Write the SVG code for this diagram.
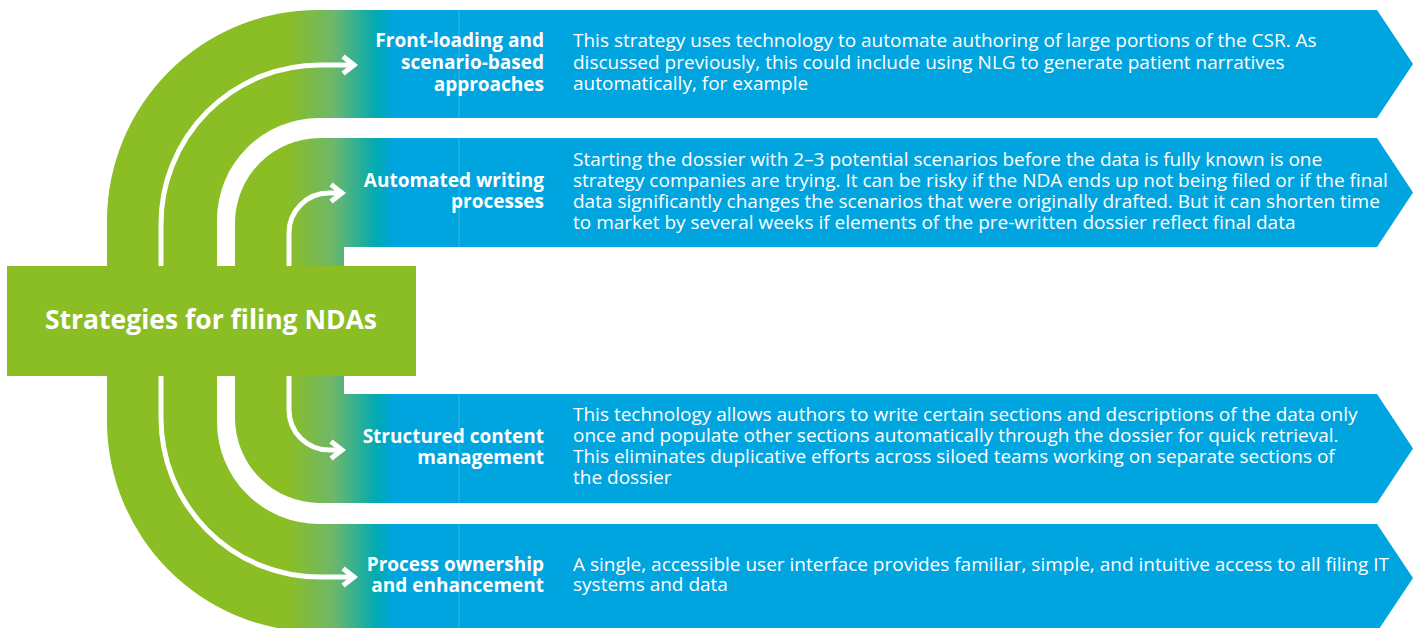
<svg xmlns="http://www.w3.org/2000/svg" width="1419" height="628" viewBox="0 0 1419 628">
<defs>
<linearGradient id="bandGrad" gradientUnits="userSpaceOnUse" x1="0" y1="0" x2="1419" y2="0">
<stop offset="0" stop-color="#8BBE24"/>
<stop offset="0.2025" stop-color="#8BBE24"/>
<stop offset="0.235" stop-color="#6DB76A"/>
<stop offset="0.2655" stop-color="#00AAB2"/>
<stop offset="0.277" stop-color="#00A4DF"/>
<stop offset="1" stop-color="#00A4DF"/>
</linearGradient>
</defs>
<style>
.band{fill:url(#bandGrad);}
.seam{stroke:#fff;stroke-opacity:0.22;stroke-width:1;}
.arrow{fill:none;stroke:#fff;stroke-width:5;}
.head{fill:none;stroke:#fff;stroke-width:5;stroke-linejoin:miter;}
.lbl{font-family:"Open Sans","Liberation Sans",sans-serif;font-weight:700;font-size:19px;fill:#fff;text-anchor:end;}
.desc{font-family:"Open Sans","Liberation Sans",sans-serif;font-size:19px;fill:#fff;}
.title{font-family:"Open Sans","Liberation Sans",sans-serif;font-weight:700;font-size:26.5px;fill:#fff;text-anchor:middle;}
</style>

<g id="outer-band">
<path class="band" d="M1413,64 L1377,10 L318,10 A211,211 0 0 0 107,221 L107,421 A211,211 0 0 0 318,632 L1377,632 L1413,578 L1377,524 L319,524 A102,102 0 0 1 217,422 L217,220 A102,102 0 0 1 319,118 L1377,118 Z"/>
</g>
<g id="inner-band">
<path class="band" d="M1413,192.5 L1377,138 L320,138 A85,85 0 0 0 235,223 L235,418 A85,85 0 0 0 320,503 L1377,503 L1413,448.5 L1377,394 L344,394 L344,247 L1377,247 Z"/>
</g>
<g id="seams">
<line class="seam" x1="459" y1="10" x2="459" y2="118"/>
<line class="seam" x1="459" y1="138" x2="459" y2="247"/>
<line class="seam" x1="459" y1="394" x2="459" y2="503"/>
<line class="seam" x1="459" y1="524" x2="459" y2="628"/>
</g>

<g id="connectors">
<path class="arrow" d="M161,270 L161,224 A159,159 0 0 1 320,65 L352,65"/>
<path class="head" d="M343,56.5 L354,65 L343,73.5"/>
<path class="arrow" d="M289,270 L289,233 A40,40 0 0 1 329,193 L340,193"/>
<path class="head" d="M331,184.5 L342,193 L331,201.5"/>
<path class="arrow" d="M289,372 L289,410 A40,40 0 0 0 329,450 L340,450"/>
<path class="head" d="M331,441.5 L342,450 L331,458.5"/>
<path class="arrow" d="M161,372 L161,418 A159,159 0 0 0 320,577 L352,577"/>
<path class="head" d="M343,568.5 L354,577 L343,585.5"/>
</g>

<g id="center-node">
<rect x="7" y="266" width="409" height="110" fill="#8BBE24"/>
<text class="title" x="211" y="329">Strategies for filing NDAs</text>
</g>

<g id="node-front-loading">
<text class="lbl"><tspan x="544" y="47">Front-loading and</tspan><tspan x="544" y="69">scenario-based</tspan><tspan x="544" y="91">approaches</tspan></text>
<text class="desc"><tspan x="573" y="47">This strategy uses technology to automate authoring of large portions of the CSR. As</tspan><tspan x="573" y="69">discussed previously, this could include using NLG to generate patient narratives</tspan><tspan x="573" y="90">automatically, for example</tspan></text>
</g>

<g id="node-automated-writing">
<text class="lbl"><tspan x="544" y="187">Automated writing</tspan><tspan x="544" y="208">processes</tspan></text>
<text class="desc"><tspan x="573" y="166">Starting the dossier with 2–3 potential scenarios before the data is fully known is one</tspan><tspan x="573" y="187">strategy companies are trying. It can be risky if the NDA ends up not being filed or if the final</tspan><tspan x="573" y="208">data significantly changes the scenarios that were originally drafted. But it can shorten time</tspan><tspan x="573" y="229">to market by several weeks if elements of the pre-written dossier reflect final data</tspan></text>
</g>

<g id="node-structured-content">
<text class="lbl"><tspan x="544" y="443">Structured content</tspan><tspan x="544" y="464">management</tspan></text>
<text class="desc"><tspan x="573" y="421">This technology allows authors to write certain sections and descriptions of the data only</tspan><tspan x="573" y="442">once and populate other sections automatically through the dossier for quick retrieval.</tspan><tspan x="573" y="463">This eliminates duplicative efforts across siloed teams working on separate sections of</tspan><tspan x="573" y="484">the dossier</tspan></text>
</g>

<g id="node-process-ownership">
<text class="lbl"><tspan x="544" y="571">Process ownership</tspan><tspan x="544" y="592">and enhancement</tspan></text>
<text class="desc"><tspan x="573" y="571">A single, accessible user interface provides familiar, simple, and intuitive access to all filing IT</tspan><tspan x="573" y="591">systems and data</tspan></text>
</g>
</svg>
